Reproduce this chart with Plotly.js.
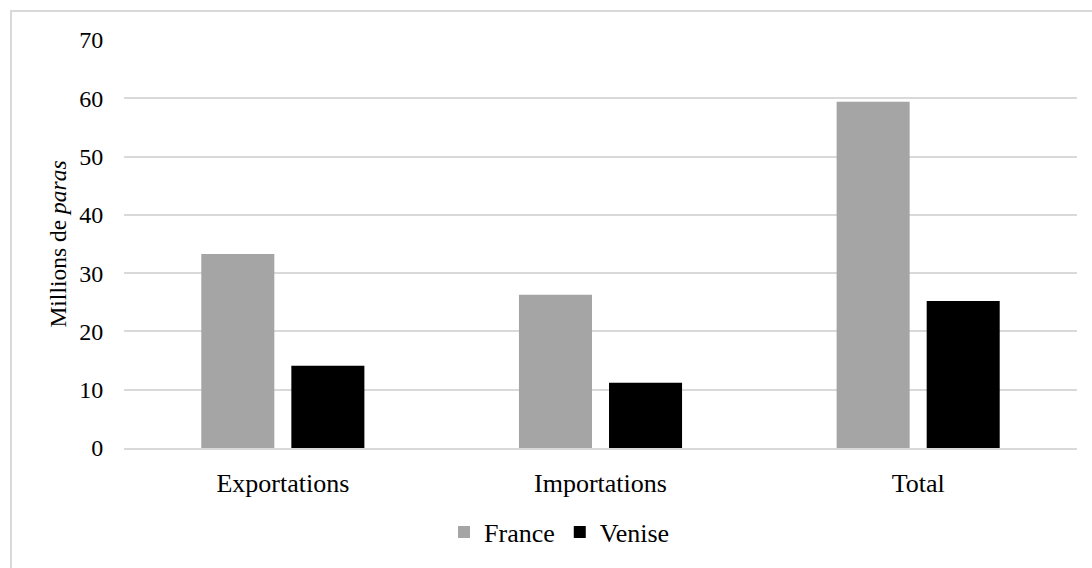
<!DOCTYPE html>
<html>
<head>
<meta charset="utf-8">
<script src="https://cdn.plot.ly/plotly-3.0.1.min.js"></script>
<style>
html,body{margin:0;padding:0;background:#fff;}
#wrap{position:relative;width:1092px;height:568px;overflow:hidden;}
#frame{position:absolute;left:10px;top:10px;width:1200px;height:700px;border-left:2px solid #d9d9d9;border-top:2px solid #d9d9d9;pointer-events:none;}
#chart{position:absolute;left:0;top:0;width:1092px;height:568px;}
</style>
</head>
<body>
<div id="wrap">
<div id="chart"></div>
<div id="frame"></div>
</div>
<script>
const categories = ["Exportations", "Importations", "Total"];
const franceValues = [33.3, 26.3, 59.4];
const veniseValues = [14.1, 11.2, 25.2];
const seriesNames = ["France", "Venise"];
const yTickValues = [0, 10, 20, 30, 40, 50, 60, 70];

const font = "Liberation Serif, Times New Roman, serif";

const traces = [
  {type: "bar", name: seriesNames[0], x: categories, y: franceValues,
   marker: {color: "#a5a5a5"}, hoverinfo: "y"},
  {type: "bar", name: seriesNames[1], x: categories, y: veniseValues,
   marker: {color: "#000000"}, hoverinfo: "y"}
];

const layout = {
  width: 1092, height: 568,
  margin: {l: 124, r: 15, t: 40, b: 116},
  paper_bgcolor: "rgba(0,0,0,0)", plot_bgcolor: "#fff",
  barmode: "group", bargap: 0.433, bargroupgap: 0.189,
  font: {family: font, size: 24, color: "#000"},
  showlegend: true,
  legend: {orientation: "h", x: 0.457, xanchor: "center", y: -0.206, yanchor: "middle",
           font: {family: font, size: 26, color: "#000"}, itemwidth: 30, tracegroupgap: 0},
  xaxis: {
    type: "category", showgrid: false, zeroline: false,
    showline: true, linecolor: "#d9d9d9", linewidth: 2,
    ticks: "outside", ticklen: 11, tickcolor: "rgba(0,0,0,0)",
    tickfont: {family: font, size: 26, color: "#000"}
  },
  yaxis: {
    range: [0, 70], tickvals: yTickValues, ticktext: yTickValues.map(String),
    showgrid: true, gridcolor: "#d9d9d9", gridwidth: 2,
    zeroline: false, showline: false,
    ticks: "outside", ticklen: 15, tickcolor: "rgba(0,0,0,0)",
    tickfont: {family: font, size: 24, color: "#000"},
    title: {text: "Millions de <i>paras</i>", font: {family: font, size: 23.5, color: "#000"}, standoff: 5}
  }
};

Plotly.newPlot("chart", traces, layout, {displayModeBar: false, staticPlot: true});
</script>
</body>
</html>
